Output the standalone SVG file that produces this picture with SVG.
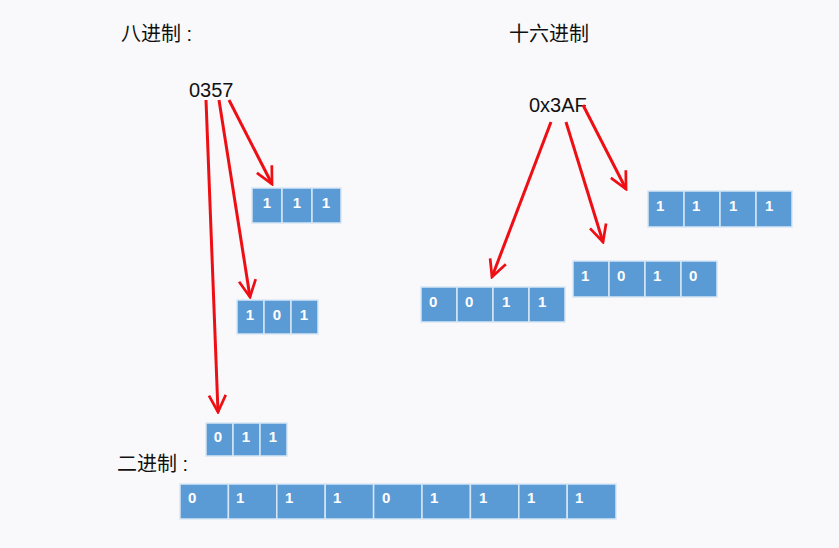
<svg xmlns="http://www.w3.org/2000/svg" width="839" height="548" viewBox="0 0 839 548">
<style>
.bg{fill:#f9f9fc}
.t{font-family:"Liberation Sans","Noto Sans CJK SC",sans-serif;font-size:20px;fill:#111}
.c{fill:#5b9bd5;stroke:#d6e6f5;stroke-width:1.5}
.n{font-family:"Liberation Sans",sans-serif;font-size:15px;font-weight:bold;fill:#fff}
.a{stroke:#ee0f14;stroke-width:3;fill:none;marker-end:url(#ah)}
</style>
<defs>
<marker id="ah" viewBox="0 0 10 10" refX="9" refY="5" markerWidth="7" markerHeight="7" orient="auto" markerUnits="strokeWidth">
<path d="M1,1 L9,5 L1,9" fill="none" stroke="#ee0f14" stroke-width="1.3"/>
</marker>
</defs>
<rect class="bg" width="839" height="548"/>
<g id="titles">
<text class="t" x="121" y="41">八进制 :</text>
<text class="t" x="509" y="41">十六进制</text>
<text class="t" x="117" y="471">二进制 :</text>
</g>
<g id="oct-src"><text class="t" x="189" y="97">0357</text></g>
<g id="hex-src"><text class="t" x="529" y="112">0x3AF</text></g>
<g id="oct-111">
<rect class="c" x="252" y="188" width="30" height="35"/><rect class="c" x="282" y="188" width="30" height="35"/><rect class="c" x="312" y="188" width="29" height="35"/>
<text class="n" x="267" y="208" text-anchor="middle">1</text><text class="n" x="297" y="208" text-anchor="middle">1</text><text class="n" x="326" y="208" text-anchor="middle">1</text>
</g>
<g id="oct-101">
<rect class="c" x="237" y="300" width="27" height="34"/><rect class="c" x="264" y="300" width="27" height="34"/><rect class="c" x="291" y="300" width="27" height="34"/>
<text class="n" x="250" y="320" text-anchor="middle">1</text><text class="n" x="277" y="320" text-anchor="middle">0</text><text class="n" x="304" y="320" text-anchor="middle">1</text>
</g>
<g id="oct-011">
<rect class="c" x="206" y="423" width="27" height="33"/><rect class="c" x="233" y="423" width="27" height="33"/><rect class="c" x="260" y="423" width="27" height="33"/>
<text class="n" x="218" y="442" text-anchor="middle">0</text><text class="n" x="246" y="442" text-anchor="middle">1</text><text class="n" x="273" y="442" text-anchor="middle">1</text>
</g>
<g id="hex-0011">
<rect class="c" x="421" y="287" width="36" height="35"/><rect class="c" x="457" y="287" width="36" height="35"/><rect class="c" x="493" y="287" width="36" height="35"/><rect class="c" x="529" y="287" width="36" height="35"/>
<text class="n" x="429" y="307">0</text><text class="n" x="465" y="307">0</text><text class="n" x="502" y="307">1</text><text class="n" x="538" y="307">1</text>
</g>
<g id="hex-1010">
<rect class="c" x="573" y="261" width="36" height="36"/><rect class="c" x="609" y="261" width="36" height="36"/><rect class="c" x="645" y="261" width="36" height="36"/><rect class="c" x="681" y="261" width="36" height="36"/>
<text class="n" x="581" y="281">1</text><text class="n" x="617" y="281">0</text><text class="n" x="653" y="281">1</text><text class="n" x="689" y="281">0</text>
</g>
<g id="hex-1111">
<rect class="c" x="648" y="191" width="36" height="36"/><rect class="c" x="684" y="191" width="36" height="36"/><rect class="c" x="720" y="191" width="36" height="36"/><rect class="c" x="756" y="191" width="36" height="36"/>
<text class="n" x="656" y="211">1</text><text class="n" x="692" y="211">1</text><text class="n" x="729" y="211">1</text><text class="n" x="765" y="211">1</text>
</g>
<g id="bin-row">
<rect class="c" x="180" y="484" width="48.4" height="35"/><rect class="c" x="228.4" y="484" width="48.4" height="35"/><rect class="c" x="276.8" y="484" width="48.4" height="35"/><rect class="c" x="325.2" y="484" width="48.4" height="35"/><rect class="c" x="373.6" y="484" width="48.4" height="35"/><rect class="c" x="422" y="484" width="48.4" height="35"/><rect class="c" x="470.4" y="484" width="48.4" height="35"/><rect class="c" x="518.8" y="484" width="48.4" height="35"/><rect class="c" x="567.2" y="484" width="48.8" height="35"/>
<text class="n" x="188" y="503">0</text><text class="n" x="236" y="503">1</text><text class="n" x="285" y="503">1</text><text class="n" x="333" y="503">1</text><text class="n" x="382" y="503">0</text><text class="n" x="430" y="503">1</text><text class="n" x="479" y="503">1</text><text class="n" x="527" y="503">1</text><text class="n" x="575" y="503">1</text>
</g>
<g id="connectors">
<line class="a" x1="206" y1="100" x2="218" y2="412"/>
<line class="a" x1="219" y1="100" x2="250" y2="297"/>
<line class="a" x1="229" y1="100" x2="272" y2="184"/>
<line class="a" x1="551" y1="122" x2="492" y2="277"/>
<line class="a" x1="566" y1="122" x2="603" y2="242"/>
<line class="a" x1="583" y1="105" x2="626" y2="189"/>
</g>
</svg>
